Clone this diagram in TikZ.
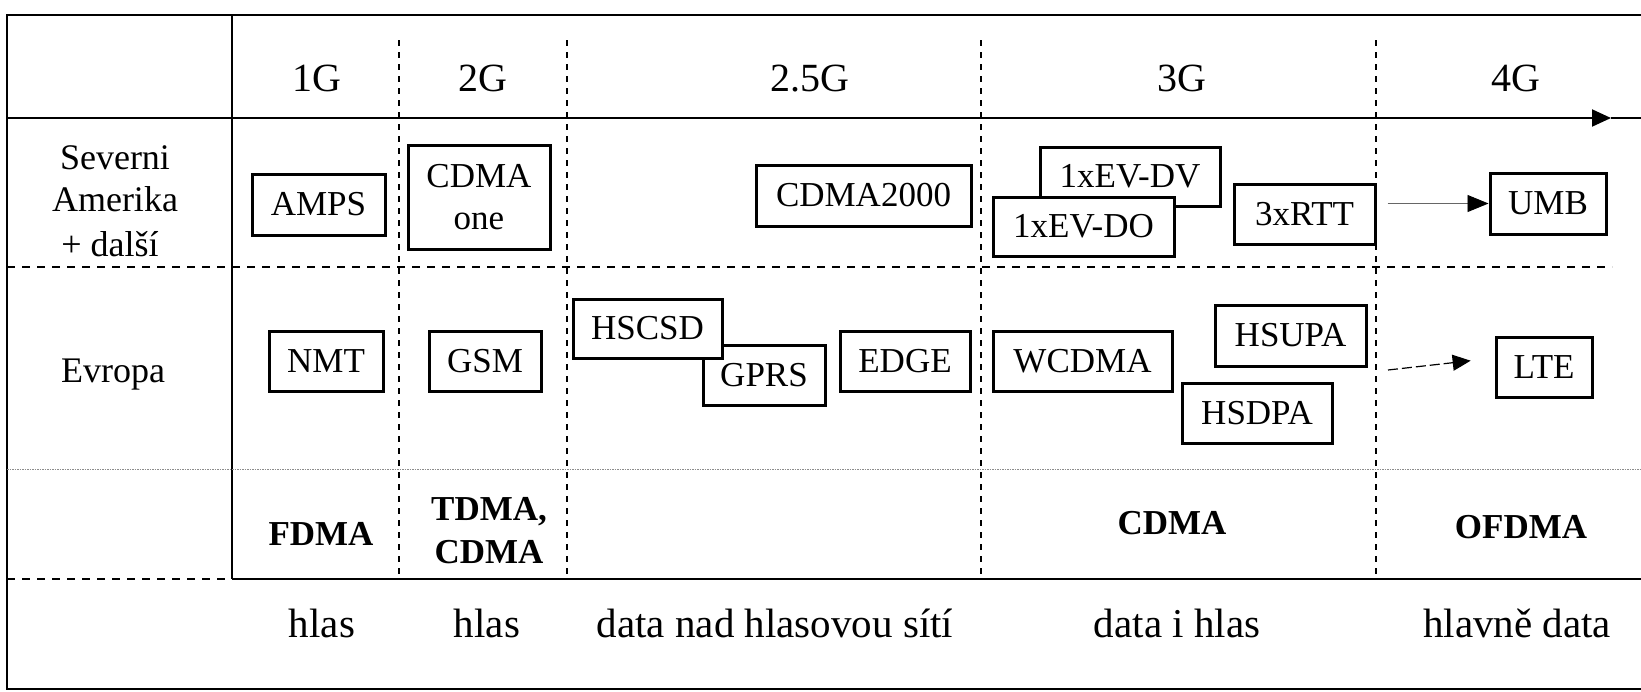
\documentclass[tikz,border=0pt]{standalone}
\usepackage{fontspec}
\setmainfont{Liberation Serif}
\usetikzlibrary{arrows.meta}

\begin{document}
\begin{tikzpicture}[x=1pt,y=-1pt,
  techbox/.style={draw=black, line width=3pt, fill=white, inner sep=0pt,
    font=\fontsize{35}{42}\selectfont, align=center},
  gridline/.style={line width=2pt},
  thingrid/.style={line width=1.2pt},
  colsep/.style={line width=1.2pt, dash pattern=on 6pt off 6pt},
  rowsep/.style={line width=1.2pt, dash pattern=on 8pt off 7pt},
  faintsep/.style={line width=0.8pt, black!45, dash pattern=on 1.5pt off 1pt},
  head/.style={font=\fontsize{40}{48}\selectfont, anchor=base},
  rowlabel/.style={font=\fontsize{36}{44}\selectfont, anchor=base},
  access/.style={font=\bfseries\fontsize{35}{42}\selectfont, anchor=base},
  usage/.style={font=\fontsize{41}{48}\selectfont, anchor=base},
  evolve/.style={line width=0.9pt, black!60, -{Triangle[length=21pt,width=17pt,black]}},
  evolvedash/.style={line width=1.2pt, dash pattern=on 10pt off 4pt,
    -{Triangle[length=18pt,width=16pt]}},
]
\useasboundingbox (0,0) rectangle (1641,691);

% table frame
\draw[gridline] (1641,15) -- (7,15) -- (7,689) -- (1641,689);
\draw[thingrid] (232,15) -- (232,579);
% time axis under the generation headers
\draw[gridline, -{Triangle[length=19pt,width=17pt]}] (7,118) -- (1611,118);
\draw[gridline] (1611,118) -- (1641,118);
% row separators
\draw[rowsep] (7,267) -- (1612,267);
\draw[faintsep] (7,469) -- (1641,469);
\draw[rowsep] (7,579) -- (232,579);
\draw[gridline] (232,579) -- (1641,579);
% generation separators
\foreach \gx in {399,567,981,1376}
  \draw[colsep] (\gx,40) -- (\gx,579);

% generation headers
\node[head] (h1)  at (317,91)  {1G};
\node[head] (h2)  at (483,91)  {2G};
\node[head] (h25) at (810,91)  {2.5G};
\node[head] (h3)  at (1182,91) {3G};
\node[head] (h4)  at (1516,91) {4G};

% row labels
\node[rowlabel] (na1) at (115,169) {Severni};
\node[rowlabel] (na2) at (115,211) {Amerika};
\node[rowlabel] (na3) at (110,256) {+ další};
\node[rowlabel] (eu)  at (113,382) {Evropa};

% North American systems
\node[techbox, minimum width=133pt, minimum height=61pt] (amps) at (318.5,204.5) {AMPS};
\node[techbox, minimum width=142pt, minimum height=104pt] (cdmaone) at (479,197) {CDMA\\one};
\node[techbox, minimum width=215pt, minimum height=61pt] (cdma2000) at (863.5,195.5) {CDMA2000};
\node[techbox, minimum width=180pt, minimum height=59pt] (evdv) at (1130,176.5) {1xEV-DV};
\node[techbox, minimum width=181pt, minimum height=59pt] (evdo) at (1083.5,226.5) {1xEV-DO};
\node[techbox, minimum width=141pt, minimum height=60pt] (rtt) at (1304.5,214) {3xRTT};
\node[techbox, minimum width=116pt, minimum height=61pt] (umb) at (1548,203.5) {UMB};

% European systems
\node[techbox, minimum width=114pt, minimum height=60pt] (nmt) at (326,361) {NMT};
\node[techbox, minimum width=112pt, minimum height=60pt] (gsm) at (485,361) {GSM};
\node[techbox, minimum width=122pt, minimum height=60pt] (gprs) at (764,375) {GPRS};
\node[techbox, minimum width=149pt, minimum height=59pt] (hscsd) at (647.5,328.5) {HSCSD};
\node[techbox, minimum width=130pt, minimum height=60pt] (edge) at (905,361) {EDGE};
\node[techbox, minimum width=179pt, minimum height=60pt] (wcdma) at (1082.5,361) {WCDMA};
\node[techbox, minimum width=151pt, minimum height=61pt] (hsupa) at (1290.5,335.5) {HSUPA};
\node[techbox, minimum width=150pt, minimum height=60pt] (hsdpa) at (1257,413) {HSDPA};
\node[techbox, minimum width=96pt, minimum height=60pt] (lte) at (1544,367) {LTE};

% evolution towards 4G
\draw[evolve, shorten <=11pt] (rtt.east |- umb.west) -- (umb.west);
\coordinate (ltefrom) at (1388,370);
\draw[evolvedash, shorten >=24pt] (ltefrom) -- ([yshift=9pt]lte.west);

% access methods
\node[access] (fdma)  at (321,545)  {FDMA};
\node[access] (tdma)  at (489,520)  {TDMA,};
\node[access] (cdma2) at (489,563)  {CDMA};
\node[access] (cdma3) at (1172,534) {CDMA};
\node[access] (ofdma) at (1521,538) {OFDMA};

% services
\node[usage] (u1)  at (322,637)  {hlas};
\node[usage] (u2)  at (487,637)  {hlas};
\node[usage] (u25) at (775,637)  {data nad hlasovou sítí};
\node[usage] (u3)  at (1177,637) {data i hlas};
\node[usage] (u4)  at (1517,637) {hlavně data};
\end{tikzpicture}
\end{document}
